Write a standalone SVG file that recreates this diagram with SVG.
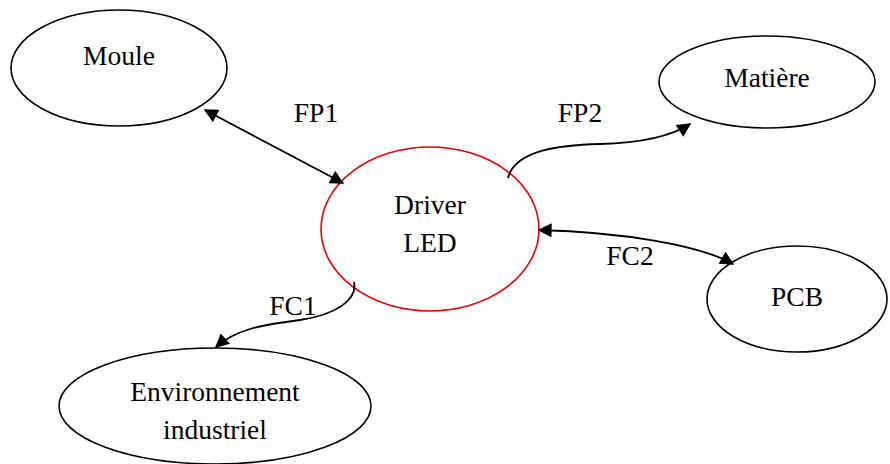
<svg xmlns="http://www.w3.org/2000/svg" width="890" height="464" viewBox="0 0 890 464">
  <style>
    .node { fill: #fff; stroke: #000; stroke-width: 1.6; }
    .main { fill: #fff; stroke: #e00000; stroke-width: 1.6; }
    .lbl { font-family: "Liberation Serif", "Times New Roman", serif; font-size: 27.5px; fill: #000; text-anchor: middle; }
    .link { fill: none; stroke: #000; stroke-width: 1.8; }
  </style>
  <defs>
    <marker id="headL" viewBox="0 0 10 10" refX="9" refY="5" markerWidth="16" markerHeight="14" markerUnits="userSpaceOnUse" orient="auto-start-reverse">
      <path d="M0,0 L10,5 L0,10 z" fill="#000"/>
    </marker>
  </defs>

  <g id="moule">
    <ellipse class="node" cx="119" cy="68" rx="108" ry="58"/>
    <text class="lbl" x="119" y="65">Moule</text>
  </g>
  <g id="matiere">
    <ellipse class="node" cx="767" cy="82" rx="108" ry="46"/>
    <text class="lbl" x="767" y="87">Matière</text>
  </g>
  <g id="driver">
    <ellipse class="main" cx="430" cy="229" rx="109" ry="82"/>
    <text class="lbl" x="430" y="214">Driver</text>
    <text class="lbl" x="430" y="252">LED</text>
  </g>
  <g id="pcb">
    <ellipse class="node" cx="797" cy="299" rx="90" ry="53"/>
    <text class="lbl" x="797" y="306">PCB</text>
  </g>
  <g id="environnement">
    <ellipse class="node" cx="215" cy="406" rx="156" ry="58"/>
    <text class="lbl" x="215" y="401">Environnement</text>
    <text class="lbl" x="215" y="439">industriel</text>
  </g>

  <g id="connectors">
    <path class="link" d="M205,110 L343,183" marker-start="url(#headL)" marker-end="url(#headL)"/>
    <path class="link" d="M508,178 C515,150 560,145 600,144 C640,143 670,137 690,124" marker-end="url(#headL)"/>
    <path class="link" d="M539,230 C620,232 700,245 733,264" marker-start="url(#headL)" marker-end="url(#headL)"/>
    <path class="link" d="M354,282 C358,300 335,315 300,320 C260,325 235,330 216,347" marker-end="url(#headL)"/>
    <text class="lbl" x="316" y="122">FP1</text>
    <text class="lbl" x="580" y="122">FP2</text>
    <text class="lbl" x="630" y="265">FC2</text>
    <text class="lbl" x="293" y="315">FC1</text>
  </g>
</svg>
